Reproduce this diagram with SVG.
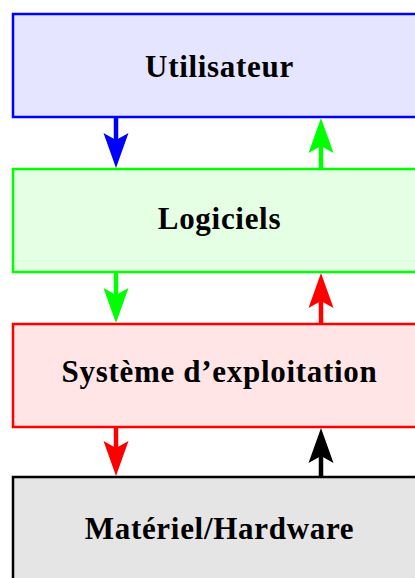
<svg xmlns="http://www.w3.org/2000/svg" width="415" height="578" viewBox="0 0 415 578">
<style>
.box{stroke-width:2.5}
.lbl{font-family:"Liberation Serif","Times New Roman",serif;font-weight:bold;font-size:31px;letter-spacing:0.7px;text-anchor:middle;fill:#000}
.shaft{stroke-width:4.5;fill:none}
</style>
<rect width="415" height="578" fill="#fff"/>
<g id="utilisateur">
<rect class="box" x="13" y="14" width="420" height="103" fill="#e5e5ff" stroke="#0000ff"/>
<text class="lbl" x="219.5" y="77">Utilisateur</text>
</g>
<g id="logiciels">
<rect class="box" x="13" y="169" width="420" height="103" fill="#e5ffe5" stroke="#00ff00"/>
<text class="lbl" x="219.5" y="229">Logiciels</text>
</g>
<g id="systeme">
<rect class="box" x="13" y="324" width="420" height="103" fill="#ffe5e5" stroke="#ff0000"/>
<text class="lbl" x="219.5" y="382">Système d’exploitation</text>
</g>
<g id="materiel">
<rect class="box" x="13" y="477" width="420" height="110" fill="#e5e5e5" stroke="#000000"/>
<text class="lbl" x="219.5" y="539">Matériel/Hardware</text>
</g>
<g id="connectors">
<line class="shaft" x1="116" y1="118" x2="116" y2="142" stroke="#0000ff"/>
<path d="M116,168 L103.5,133 L116,140 L128.5,133 Z" fill="#0000ff"/>
<line class="shaft" x1="321" y1="168" x2="321" y2="144" stroke="#00ff00"/>
<path d="M321,118 L308.5,153 L321,146 L333.5,153 Z" fill="#00ff00"/>
<line class="shaft" x1="116" y1="273" x2="116" y2="297" stroke="#00ff00"/>
<path d="M116,323 L103.5,288 L116,295 L128.5,288 Z" fill="#00ff00"/>
<line class="shaft" x1="321" y1="323" x2="321" y2="299" stroke="#ff0000"/>
<path d="M321,273 L308.5,308 L321,301 L333.5,308 Z" fill="#ff0000"/>
<line class="shaft" x1="116" y1="428" x2="116" y2="450" stroke="#ff0000"/>
<path d="M116,476 L103.5,441 L116,448 L128.5,441 Z" fill="#ff0000"/>
<line class="shaft" x1="321" y1="476" x2="321" y2="453" stroke="#000000"/>
<path d="M321,428 L308.5,463 L321,456 L333.5,463 Z" fill="#000000"/>
</g>
</svg>
